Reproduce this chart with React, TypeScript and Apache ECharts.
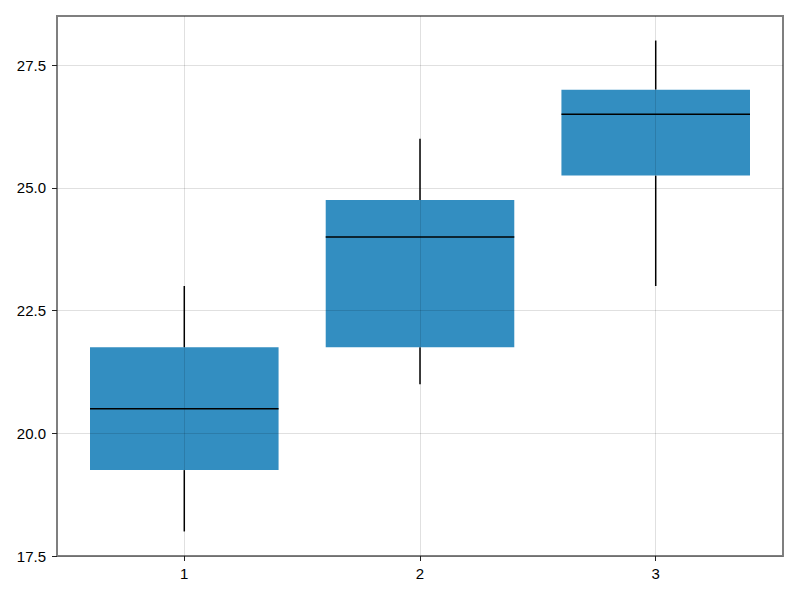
import React, { useEffect, useRef } from 'react';
import * as echarts from 'echarts';

const categories = [1, 2, 3];
const mins = [18, 21, 23];
const q1s = [19.25, 21.75, 25.25];
const medians = [20.5, 24, 26.5];
const q3s = [21.75, 24.75, 27];
const maxs = [23, 26, 28];
const yTicks = [17.5, 20, 22.5, 25, 27.5];
const xTicks = [1, 2, 3];

export default function App() {
  const ref = useRef<HTMLDivElement>(null);
  useEffect(() => {
    if (!ref.current) return;
    const chart = echarts.init(ref.current, null, { renderer: 'svg' });
    const data = categories.map((c, i) => [c, mins[i], q1s[i], medians[i], q3s[i], maxs[i]]);
    const halfW = 0.4;
    const font = 'Liberation Sans, Arial, Helvetica, sans-serif';
    chart.setOption({
      animation: false,
      backgroundColor: '#ffffff',
      grid: {
        left: 57, right: 17, top: 16, bottom: 44,
        show: true, borderColor: '#7f7f7f', borderWidth: 2, backgroundColor: 'transparent',
      },
      xAxis: {
        type: 'value', min: 0.46, max: 3.54,
        axisLine: { show: false },
        splitLine: { show: false },
        axisTick: { show: true, customValues: xTicks, length: 5, lineStyle: { color: '#222', width: 1 } },
        axisLabel: { show: true, customValues: xTicks, margin: 10, color: '#000', fontSize: 15, fontFamily: font, formatter: (v: number) => String(v) },
      },
      yAxis: {
        type: 'value', min: 17.5, max: 28.5,
        axisLine: { show: false },
        splitLine: { show: false },
        axisTick: { show: true, customValues: yTicks, length: 5, lineStyle: { color: '#222', width: 1 } },
        axisLabel: { show: true, customValues: yTicks, margin: 11, color: '#000', fontSize: 15, fontFamily: font, formatter: (v: number) => v.toFixed(1) },
      },
      series: [
        {
          type: 'line',
          data: [],
          z: 1,
          silent: true,
          markLine: {
            silent: true,
            symbol: ['none', 'none'],
            label: { show: false },
            lineStyle: { color: 'rgba(0,0,0,0.12)', width: 1, type: 'solid' },
            data: [
              ...xTicks.map((v) => ({ xAxis: v })),
              ...yTicks.map((v) => ({ yAxis: v })),
            ],
          },
        },
        {
          type: 'custom',
          z: 2,
          data,
          encode: { x: 0, y: [1, 2, 3, 4, 5] },
          renderItem: (params: any, api: any) => {
            const x = api.value(0);
            const mn = api.value(1);
            const q1 = api.value(2);
            const md = api.value(3);
            const q3 = api.value(4);
            const mx = api.value(5);
            const tl = api.coord([x - halfW, q3]);
            const br = api.coord([x + halfW, q1]);
            const c = api.coord([x, md]);
            const pMin = api.coord([x, mn]);
            const pMax = api.coord([x, mx]);
            const lineStyle = { stroke: '#000', lineWidth: 1.5 };
            return {
              type: 'group',
              children: [
                { type: 'line', shape: { x1: pMin[0], y1: pMin[1], x2: pMin[0], y2: br[1] }, style: lineStyle },
                { type: 'line', shape: { x1: pMax[0], y1: pMax[1], x2: pMax[0], y2: tl[1] }, style: lineStyle },
                { type: 'rect', shape: { x: tl[0], y: tl[1], width: br[0] - tl[0], height: br[1] - tl[1] }, style: { fill: 'rgba(0,114,178,0.8)' } },
                { type: 'line', shape: { x1: tl[0], y1: c[1], x2: br[0], y2: c[1] }, style: lineStyle },
              ],
            };
          },
        },
      ],
    });
    return () => chart.dispose();
  }, []);
  return <div ref={ref} style={{ position: 'fixed', left: 0, top: 0, width: 800, height: 600 }} />;
}
